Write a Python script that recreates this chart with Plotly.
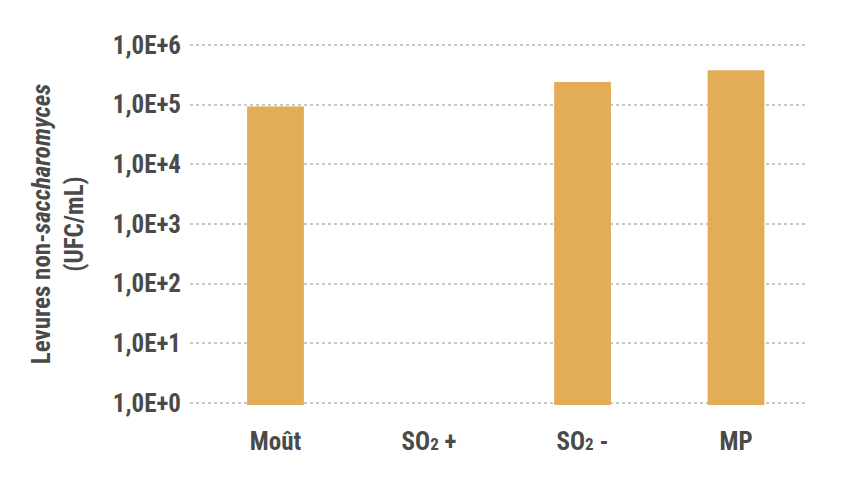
import plotly.graph_objects as go

categories = ["Moût", "SO<span style='font-size:17px'>2</span> +",
              "SO<span style='font-size:17px'>2</span> -", "MP"]
values = [9.3e4, None, 2.4e5, 3.8e5]
tick_vals = [1, 10, 100, 1e3, 1e4, 1e5, 1e6]
tick_text = ["1,0E+0", "1,0E+1", "1,0E+2", "1,0E+3", "1,0E+4", "1,0E+5", "1,0E+6"]

FONT = "Liberation Sans Narrow, Roboto Condensed, Roboto, sans-serif"
TXT = "#4a4a4a"
FS = 25

fig = go.Figure(go.Bar(
    x=categories, y=values, marker_color="#E3AC57",
    marker_line_width=0, width=0.37,
))

# page body has an 8px default margin; offsets compensate
fig.update_layout(
    width=854, height=484,
    margin=dict(l=182, r=54, t=35, b=87),
    plot_bgcolor="white", paper_bgcolor="white",
    font=dict(family=FONT, size=FS, color=TXT, weight="bold"),
    showlegend=False,
)
fig.update_xaxes(
    range=[-0.557, 3.469], showgrid=False, zeroline=False, showline=False,
    ticks="outside", ticklen=14, tickcolor="rgba(0,0,0,0)", automargin=False,
    tickfont=dict(family=FONT, size=FS, color=TXT, weight="bold"),
)
fig.update_yaxes(
    type="log", range=[-0.035, 6.035], tickvals=tick_vals, ticktext=tick_text,
    showgrid=True, gridcolor="#c8c8c8", gridwidth=2, griddash="dot",
    zeroline=False, showline=False, ticks="", ticklabelstandoff=8, automargin=False,
    tickfont=dict(family=FONT, size=FS, color=TXT, weight="bold"),
    title=dict(text="Levures non-<i>saccharomyces</i><br>(UFC/mL)",
               font=dict(family=FONT, size=FS, color=TXT, weight="bold"),
               standoff=22),
)

fig.write_html("out.html")
